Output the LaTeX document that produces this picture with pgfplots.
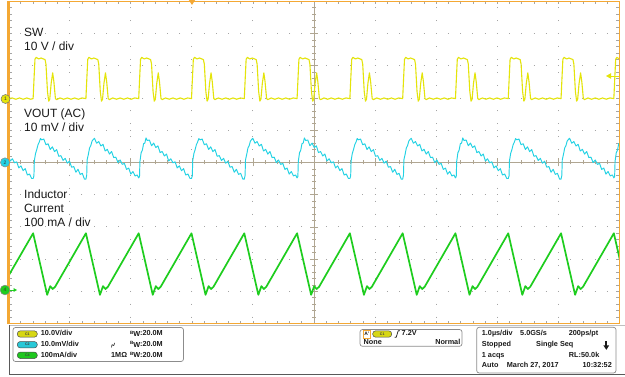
\documentclass[border=0pt]{standalone}
\usepackage{pgfplots}
\pgfplotsset{compat=1.18}
\usepackage{fontspec}
\setmainfont{Liberation Sans}
\definecolor{scyel}{RGB}{228,228,10}
\definecolor{sccyan}{RGB}{35,210,228}
\definecolor{scgreen}{RGB}{30,205,30}
\definecolor{scorange}{RGB}{244,168,52}
\definecolor{gridc}{RGB}{165,165,165}
\definecolor{centc}{RGB}{176,166,146}
\definecolor{tickc}{RGB}{165,165,165}
\definecolor{txt}{RGB}{25,25,25}
\definecolor{boxc}{RGB}{140,140,140}
\definecolor{pillyel}{RGB}{215,215,20}
\definecolor{pillcyan}{RGB}{40,200,215}
\definecolor{pillgreen}{RGB}{30,200,30}
\begin{document}
\begin{tikzpicture}[x=1bp,y=1bp]
\path[use as bounding box, fill=white] (0,0) rectangle (625,376);
% ---------- graticule ----------
\foreach \i in {1,2,3,4,6,7,8,9} {
  \draw[gridc, line width=0.9bp, dash pattern=on 0.9bp off 11.32bp] (313.55,{52.5+32.22*\i}) -- (619.5,{52.5+32.22*\i});
  \draw[gridc, line width=0.9bp, dash pattern=on 0.9bp off 11.32bp] (314.45,{52.5+32.22*\i}) -- (8.5,{52.5+32.22*\i});
  \draw[gridc, line width=0.9bp, dash pattern=on 0.9bp off 11.99bp] ({8.5+61.1*\i},213.15) -- ({8.5+61.1*\i},374.7);
  \draw[gridc, line width=0.9bp, dash pattern=on 0.9bp off 11.99bp] ({8.5+61.1*\i},214.05) -- ({8.5+61.1*\i},52.5);
}
\draw[centc, line width=0.7bp] (8.5,213.6) -- (619.5,213.6);
\draw[centc, line width=0.7bp] (314,52.5) -- (314,374.7);
\foreach \j in {-24,...,24} {
  \draw[centc, line width=0.6bp] ({314+12.22*\j},211.6) -- ({314+12.22*\j},215.6);
  \draw[centc, line width=0.6bp] (312,{213.6+6.444*\j}) -- (316,{213.6+6.444*\j});
}
\foreach \j in {-4,...,4} {
  \draw[centc, line width=0.6bp] ({314+61.1*\j},209.6) -- ({314+61.1*\j},217.6);
  \draw[centc, line width=0.6bp] (310,{213.6+32.22*\j}) -- (318,{213.6+32.22*\j});
}
\foreach \j in {1,...,49} {
  \draw[tickc, line width=0.6bp] ({8.5+12.22*\j},52.5) -- ({8.5+12.22*\j},55.5);
  \draw[tickc, line width=0.6bp] ({8.5+12.22*\j},374.7) -- ({8.5+12.22*\j},371.7);
  \draw[tickc, line width=0.6bp] (8.5,{52.5+6.444*\j}) -- (11.8,{52.5+6.444*\j});
  \draw[tickc, line width=0.6bp] (619.5,{52.5+6.444*\j}) -- (616.2,{52.5+6.444*\j});
}
% ---------- traces ----------
\begin{axis}[at={(8.5bp,52.5bp)}, anchor=south west, width=611bp, height=322.2bp,
  scale only axis, xmin=-3, xmax=7, ymin=-5, ymax=5, hide axis, clip=true]
% SW (divisions, ground at +2 div)
\addplot[scyel, line width=1.1bp, no markers, line join=round] coordinates {
(-3.000,1.98) (-2.940,2.00) (-2.880,1.96) (-2.820,2.00) (-2.760,1.96) (-2.700,2.00) (-2.640,1.96)
(-2.597,1.98) (-2.582,2.60) (-2.567,3.20) (-2.547,3.26) (-2.507,3.21) (-2.467,3.24) (-2.427,3.21) (-2.402,3.19) (-2.387,3.05) (-2.362,2.20) (-2.342,1.90) (-2.325,1.96) (-2.302,2.45) (-2.277,2.78) (-2.257,2.50) (-2.232,1.98) (-2.212,1.95) (-2.157,2.00) (-2.097,1.96) (-2.037,2.00) (-1.977,1.96) (-1.917,2.00) (-1.857,1.96) (-1.797,2.00)
(-1.733,1.98) (-1.718,2.60) (-1.703,3.20) (-1.683,3.26) (-1.643,3.21) (-1.603,3.24) (-1.563,3.21) (-1.538,3.19) (-1.523,3.05) (-1.498,2.20) (-1.478,1.90) (-1.461,1.96) (-1.438,2.45) (-1.413,2.78) (-1.393,2.50) (-1.368,1.98) (-1.348,1.95) (-1.293,2.00) (-1.233,1.96) (-1.173,2.00) (-1.113,1.96) (-1.053,2.00) (-0.993,1.96) (-0.933,2.00)
(-0.869,1.98) (-0.854,2.60) (-0.839,3.20) (-0.819,3.26) (-0.779,3.21) (-0.739,3.24) (-0.699,3.21) (-0.674,3.19) (-0.659,3.05) (-0.634,2.20) (-0.614,1.90) (-0.597,1.96) (-0.574,2.45) (-0.549,2.78) (-0.529,2.50) (-0.504,1.98) (-0.484,1.95) (-0.429,2.00) (-0.369,1.96) (-0.309,2.00) (-0.249,1.96) (-0.189,2.00) (-0.129,1.96) (-0.069,2.00)
(-0.005,1.98) (0.010,2.60) (0.025,3.20) (0.045,3.26) (0.085,3.21) (0.125,3.24) (0.165,3.21) (0.190,3.19) (0.205,3.05) (0.230,2.20) (0.250,1.90) (0.267,1.96) (0.290,2.45) (0.315,2.78) (0.335,2.50) (0.360,1.98) (0.380,1.95) (0.435,2.00) (0.495,1.96) (0.555,2.00) (0.615,1.96) (0.675,2.00) (0.735,1.96) (0.795,2.00)
(0.859,1.98) (0.874,2.60) (0.889,3.20) (0.909,3.26) (0.949,3.21) (0.989,3.24) (1.029,3.21) (1.054,3.19) (1.069,3.05) (1.094,2.20) (1.114,1.90) (1.131,1.96) (1.154,2.45) (1.179,2.78) (1.199,2.50) (1.224,1.98) (1.244,1.95) (1.299,2.00) (1.359,1.96) (1.419,2.00) (1.479,1.96) (1.539,2.00) (1.599,1.96) (1.659,2.00)
(1.723,1.98) (1.738,2.60) (1.753,3.20) (1.773,3.26) (1.813,3.21) (1.853,3.24) (1.893,3.21) (1.918,3.19) (1.933,3.05) (1.958,2.20) (1.978,1.90) (1.995,1.96) (2.018,2.45) (2.043,2.78) (2.063,2.50) (2.088,1.98) (2.108,1.95) (2.163,2.00) (2.223,1.96) (2.283,2.00) (2.343,1.96) (2.403,2.00) (2.463,1.96) (2.523,2.00)
(2.587,1.98) (2.602,2.60) (2.617,3.20) (2.637,3.26) (2.677,3.21) (2.717,3.24) (2.757,3.21) (2.782,3.19) (2.797,3.05) (2.822,2.20) (2.842,1.90) (2.859,1.96) (2.882,2.45) (2.907,2.78) (2.927,2.50) (2.952,1.98) (2.972,1.95) (3.027,2.00) (3.087,1.96) (3.147,2.00) (3.207,1.96) (3.267,2.00) (3.327,1.96) (3.387,2.00)
(3.451,1.98) (3.466,2.60) (3.481,3.20) (3.501,3.26) (3.541,3.21) (3.581,3.24) (3.621,3.21) (3.646,3.19) (3.661,3.05) (3.686,2.20) (3.706,1.90) (3.723,1.96) (3.746,2.45) (3.771,2.78) (3.791,2.50) (3.816,1.98) (3.836,1.95) (3.891,2.00) (3.951,1.96) (4.011,2.00) (4.071,1.96) (4.131,2.00) (4.191,1.96) (4.251,2.00)
(4.315,1.98) (4.330,2.60) (4.345,3.20) (4.365,3.26) (4.405,3.21) (4.445,3.24) (4.485,3.21) (4.510,3.19) (4.525,3.05) (4.550,2.20) (4.570,1.90) (4.587,1.96) (4.610,2.45) (4.635,2.78) (4.655,2.50) (4.680,1.98) (4.700,1.95) (4.755,2.00) (4.815,1.96) (4.875,2.00) (4.935,1.96) (4.995,2.00) (5.055,1.96) (5.115,2.00)
(5.179,1.98) (5.194,2.60) (5.209,3.20) (5.229,3.26) (5.269,3.21) (5.309,3.24) (5.349,3.21) (5.374,3.19) (5.389,3.05) (5.414,2.20) (5.434,1.90) (5.451,1.96) (5.474,2.45) (5.499,2.78) (5.519,2.50) (5.544,1.98) (5.564,1.95) (5.619,2.00) (5.679,1.96) (5.739,2.00) (5.799,1.96) (5.859,2.00) (5.919,1.96) (5.979,2.00)
(6.043,1.98) (6.058,2.60) (6.073,3.20) (6.093,3.26) (6.133,3.21) (6.173,3.24) (6.213,3.21) (6.238,3.19) (6.253,3.05) (6.278,2.20) (6.298,1.90) (6.315,1.96) (6.338,2.45) (6.363,2.78) (6.383,2.50) (6.408,1.98) (6.428,1.95) (6.483,2.00) (6.543,1.96) (6.603,2.00) (6.663,1.96) (6.723,2.00) (6.783,1.96) (6.843,2.00)
(6.907,1.98) (6.922,2.60) (6.937,3.20) (6.957,3.26) (6.997,3.21) (7.037,3.24)
};
% VOUT (AC)
\addplot[sccyan, line width=0.95bp, no markers, line join=round] coordinates {
(-3.006,0.260) (-2.971,0.042) (-2.936,0.114) (-2.901,-0.014) (-2.866,0.018) (-2.831,-0.170) (-2.796,-0.108) (-2.761,-0.256) (-2.726,-0.194) (-2.691,-0.392) (-2.656,-0.360) (-2.621,-0.499)
(-2.597,-0.50) (-2.584,-0.42) (-2.577,0.05) (-2.557,0.28) (-2.537,0.40) (-2.517,0.55) (-2.497,0.63) (-2.477,0.74) (-2.457,0.70) (-2.422,0.725) (-2.387,0.547) (-2.352,0.579) (-2.317,0.401) (-2.282,0.483) (-2.247,0.335) (-2.212,0.397) (-2.177,0.189) (-2.142,0.210) (-2.107,0.062) (-2.072,0.124) (-2.037,-0.024) (-2.002,0.038) (-1.967,-0.150) (-1.932,-0.128) (-1.897,-0.306) (-1.862,-0.214) (-1.827,-0.372) (-1.792,-0.340) (-1.757,-0.519)
(-1.733,-0.52) (-1.720,-0.40) (-1.713,0.08) (-1.693,0.25) (-1.673,0.45) (-1.653,0.52) (-1.633,0.66) (-1.613,0.71) (-1.593,0.75) (-1.558,0.595) (-1.523,0.647) (-1.488,0.509) (-1.453,0.561) (-1.418,0.353) (-1.383,0.405) (-1.348,0.257) (-1.313,0.339) (-1.278,0.150) (-1.243,0.162) (-1.208,-0.006) (-1.173,0.076) (-1.138,-0.062) (-1.103,-0.030) (-1.068,-0.218) (-1.033,-0.176) (-0.998,-0.364) (-0.963,-0.282) (-0.928,-0.420) (-0.893,-0.389)
(-0.869,-0.48) (-0.856,-0.44) (-0.849,0.03) (-0.829,0.30) (-0.809,0.38) (-0.789,0.58) (-0.769,0.60) (-0.749,0.76) (-0.729,0.68) (-0.694,0.695) (-0.659,0.517) (-0.624,0.599) (-0.589,0.461) (-0.554,0.513) (-0.519,0.305) (-0.484,0.337) (-0.449,0.199) (-0.414,0.260) (-0.379,0.042) (-0.344,0.114) (-0.309,-0.014) (-0.274,0.018) (-0.239,-0.170) (-0.204,-0.108) (-0.169,-0.256) (-0.134,-0.194) (-0.099,-0.392) (-0.064,-0.360) (-0.029,-0.499)
(-0.005,-0.50) (0.008,-0.42) (0.015,0.05) (0.035,0.28) (0.055,0.40) (0.075,0.55) (0.095,0.63) (0.115,0.74) (0.135,0.70) (0.170,0.725) (0.205,0.547) (0.240,0.579) (0.275,0.401) (0.310,0.483) (0.345,0.335) (0.380,0.397) (0.415,0.189) (0.450,0.210) (0.485,0.062) (0.520,0.124) (0.555,-0.024) (0.590,0.038) (0.625,-0.150) (0.660,-0.128) (0.695,-0.306) (0.730,-0.214) (0.765,-0.372) (0.800,-0.340) (0.835,-0.519)
(0.859,-0.52) (0.872,-0.40) (0.879,0.08) (0.899,0.25) (0.919,0.45) (0.939,0.52) (0.959,0.66) (0.979,0.71) (0.999,0.75) (1.034,0.595) (1.069,0.647) (1.104,0.509) (1.139,0.561) (1.174,0.353) (1.209,0.405) (1.244,0.257) (1.279,0.339) (1.314,0.150) (1.349,0.162) (1.384,-0.006) (1.419,0.076) (1.454,-0.062) (1.489,-0.030) (1.524,-0.218) (1.559,-0.176) (1.594,-0.364) (1.629,-0.282) (1.664,-0.420) (1.699,-0.389)
(1.723,-0.48) (1.736,-0.44) (1.743,0.03) (1.763,0.30) (1.783,0.38) (1.803,0.58) (1.823,0.60) (1.843,0.76) (1.863,0.68) (1.898,0.695) (1.933,0.517) (1.968,0.599) (2.003,0.461) (2.038,0.513) (2.073,0.305) (2.108,0.337) (2.143,0.199) (2.178,0.260) (2.213,0.042) (2.248,0.114) (2.283,-0.014) (2.318,0.018) (2.353,-0.170) (2.388,-0.108) (2.423,-0.256) (2.458,-0.194) (2.493,-0.392) (2.528,-0.360) (2.563,-0.499)
(2.587,-0.50) (2.600,-0.42) (2.607,0.05) (2.627,0.28) (2.647,0.40) (2.667,0.55) (2.687,0.63) (2.707,0.74) (2.727,0.70) (2.762,0.725) (2.797,0.547) (2.832,0.579) (2.867,0.401) (2.902,0.483) (2.937,0.335) (2.972,0.397) (3.007,0.189) (3.042,0.210) (3.077,0.062) (3.112,0.124) (3.147,-0.024) (3.182,0.038) (3.217,-0.150) (3.252,-0.128) (3.287,-0.306) (3.322,-0.214) (3.357,-0.372) (3.392,-0.340) (3.427,-0.519)
(3.451,-0.52) (3.464,-0.40) (3.471,0.08) (3.491,0.25) (3.511,0.45) (3.531,0.52) (3.551,0.66) (3.571,0.71) (3.591,0.75) (3.626,0.595) (3.661,0.647) (3.696,0.509) (3.731,0.561) (3.766,0.353) (3.801,0.405) (3.836,0.257) (3.871,0.339) (3.906,0.150) (3.941,0.162) (3.976,-0.006) (4.011,0.076) (4.046,-0.062) (4.081,-0.030) (4.116,-0.218) (4.151,-0.176) (4.186,-0.364) (4.221,-0.282) (4.256,-0.420) (4.291,-0.389)
(4.315,-0.48) (4.328,-0.44) (4.335,0.03) (4.355,0.30) (4.375,0.38) (4.395,0.58) (4.415,0.60) (4.435,0.76) (4.455,0.68) (4.490,0.695) (4.525,0.517) (4.560,0.599) (4.595,0.461) (4.630,0.513) (4.665,0.305) (4.700,0.337) (4.735,0.199) (4.770,0.260) (4.805,0.042) (4.840,0.114) (4.875,-0.014) (4.910,0.018) (4.945,-0.170) (4.980,-0.108) (5.015,-0.256) (5.050,-0.194) (5.085,-0.392) (5.120,-0.360) (5.155,-0.499)
(5.179,-0.50) (5.192,-0.42) (5.199,0.05) (5.219,0.28) (5.239,0.40) (5.259,0.55) (5.279,0.63) (5.299,0.74) (5.319,0.70) (5.354,0.725) (5.389,0.547) (5.424,0.579) (5.459,0.401) (5.494,0.483) (5.529,0.335) (5.564,0.397) (5.599,0.189) (5.634,0.210) (5.669,0.062) (5.704,0.124) (5.739,-0.024) (5.774,0.038) (5.809,-0.150) (5.844,-0.128) (5.879,-0.306) (5.914,-0.214) (5.949,-0.372) (5.984,-0.340) (6.019,-0.519)
(6.043,-0.52) (6.056,-0.40) (6.063,0.08) (6.083,0.25) (6.103,0.45) (6.123,0.52) (6.143,0.66) (6.163,0.71) (6.183,0.75) (6.218,0.595) (6.253,0.647) (6.288,0.509) (6.323,0.561) (6.358,0.353) (6.393,0.405) (6.428,0.257) (6.463,0.339) (6.498,0.150) (6.533,0.162) (6.568,-0.006) (6.603,0.076) (6.638,-0.062) (6.673,-0.030) (6.708,-0.218) (6.743,-0.176) (6.778,-0.364) (6.813,-0.282) (6.848,-0.420) (6.883,-0.389)
(6.907,-0.48) (6.920,-0.44) (6.927,0.03) (6.947,0.30) (6.967,0.38) (6.987,0.58) (7.007,0.60)
};
% Inductor current
\addplot[scgreen, line width=1.7bp, no markers, line join=round] coordinates {
(-3.000,-3.52) (-2.597,-2.20) (-2.367,-4.11) (-2.317,-3.84) (-2.277,-3.93) (-2.237,-3.86)
(-1.733,-2.20) (-1.503,-4.11) (-1.453,-3.84) (-1.413,-3.93) (-1.373,-3.86)
(-0.869,-2.20) (-0.639,-4.11) (-0.589,-3.84) (-0.549,-3.93) (-0.509,-3.86)
(-0.005,-2.20) (0.225,-4.11) (0.275,-3.84) (0.315,-3.93) (0.355,-3.86)
(0.859,-2.20) (1.089,-4.11) (1.139,-3.84) (1.179,-3.93) (1.219,-3.86)
(1.723,-2.20) (1.953,-4.11) (2.003,-3.84) (2.043,-3.93) (2.083,-3.86)
(2.587,-2.20) (2.817,-4.11) (2.867,-3.84) (2.907,-3.93) (2.947,-3.86)
(3.451,-2.20) (3.681,-4.11) (3.731,-3.84) (3.771,-3.93) (3.811,-3.86)
(4.315,-2.20) (4.545,-4.11) (4.595,-3.84) (4.635,-3.93) (4.675,-3.86)
(5.179,-2.20) (5.409,-4.11) (5.459,-3.84) (5.499,-3.93) (5.539,-3.86)
(6.043,-2.20) (6.273,-4.11) (6.323,-3.84) (6.363,-3.93) (6.403,-3.86)
(6.907,-2.20) (7.137,-4.11)
};
\end{axis}
% ---------- frame ----------
\draw[scorange, line width=1.4bp] (8.5,52.5) rectangle (619.5,374.7);
\draw[scorange, line width=2.8bp] (8.3,51.8) -- (8.3,375.4);
% trigger position marker (top) and trigger level (right)
\fill[scorange] (188.8,376) -- (195.2,376) -- (192,371) -- cycle;
\draw[scyel, line width=0.8bp] (610,300) -- (619,300);
\fill[scyel] (606,300) -- (611,302.8) -- (611,297.2) -- cycle;
% channel markers
\draw[fill=scyel, draw=black!55, line width=0.5bp] (5.5,277) circle (4.5);
\node[font=\fontsize{5}{5}\selectfont, text=black!80, inner sep=0] at (5.5,277) {1};
\draw[fill=sccyan, draw=black!45, line width=0.5bp] (5,213.6) circle (4.6);
\node[font=\fontsize{5}{5}\selectfont, text=black!80, inner sep=0] at (5,213.6) {2};
\draw[scgreen, line width=0.8bp] (9,86) -- (14,86);
\fill[scgreen] (17,86) -- (13.5,88) -- (13.5,84) -- cycle;
\draw[fill=scgreen, draw=black!45, line width=0.5bp] (5,86) circle (4.9);
\node[font=\fontsize{5}{5}\selectfont, text=black!80, inner sep=0] at (5,86) {4};
% labels
\begin{scope}[every node/.style={anchor=base west, inner sep=0, text=txt, font=\fontsize{12}{14}\selectfont}]
\node at (24,340) {SW};
\node at (24,325.5) {10 V / div};
\node at (24,258.5) {VOUT (AC)};
\node at (24,245) {10 mV / div};
\node at (24,178) {Inductor};
\node at (24,163.5) {Current};
\node at (24,149.5) {100 mA / div};
\end{scope}
% ---------- status bar ----------
\draw[black!25, line width=0.6bp] (9,51.2) -- (625,51.2);
\draw[black!65, line width=0.8bp] (9.3,51) -- (9.3,2) -- (625,2);
\draw[boxc, line width=0.7bp, rounded corners=2.5bp] (13,14.5) rectangle (183.5,48.5);
\draw[boxc, line width=0.7bp, rounded corners=2.5bp] (360,29.7) rectangle (462,46.5);
\draw[boxc, line width=0.7bp, rounded corners=2.5bp] (476.7,3) rectangle (616,48.7);
% channel pills
\foreach \yy/\cc/\lab in {42/pillyel/C1, 31.3/pillcyan/C2, 20.7/pillgreen/C4} {
  \draw[fill=\cc, draw=black!70, line width=0.5bp, rounded corners=3bp] (17.3,\yy-3.2) rectangle (37.3,\yy+3.2);
  \node[inner sep=0, font=\bfseries\fontsize{3.6}{4}\selectfont, text=black!75] at (27.3,\yy) {\lab};
}
\begin{scope}[every node/.style={anchor=base west, inner sep=0, text=txt, font=\bfseries\fontsize{7.3}{8}\selectfont}]
\node at (40.7,40.2) {10.0V/div};
\node at (40.7,29.6) {10.0mV/div};
\node at (40.7,19.0) {100mA/div};
\node at (111,19.0) {1MΩ};
\foreach \yy in {40.2,29.6,19.0} {
  \node at (130,\yy) {\raisebox{1.6bp}{\fontsize{4.6}{5}\selectfont B}\kern-0.2bp\raisebox{-0.9bp}{W}:20.0M};
}
% trigger box
\node at (401.5,40.2) {7.2V};
\node at (363.5,31.6) {None};
\node[anchor=base east] at (460.5,31.6) {Normal};
% timebase box
\node at (481.7,40.2) {1.0µs/div};
\node at (520,40.2) {5.0GS/s};
\node[anchor=base east] at (598.5,40.2) {200ps/pt};
\node at (481.7,29.6) {Stopped};
\node at (536,29.6) {Single Seq};
\node at (481.7,19.0) {1 acqs};
\node[anchor=base east] at (599.5,19.0) {RL:50.0k};
\node at (481.7,8.2) {Auto};
\node at (506.7,8.2) {March 27, 2017};
\node[anchor=base east] at (612,8.2) {10:32:52};
\end{scope}
% AC coupling symbol
\draw[txt, line width=0.6bp] (111.5,28.6) .. controls (112.3,35.5) and (113.6,26.2) .. (114.5,33.2);
% trigger box items
\draw[fill=white, draw=scorange, line width=0.6bp] (363.3,38.2) rectangle (370.3,45.6);
\node[inner sep=0, font=\bfseries\fontsize{5}{5}\selectfont, text=txt] at (366.8,41.9) {A'};
\draw[fill=pillyel, draw=black!70, line width=0.5bp, rounded corners=3bp] (372.7,38.8) rectangle (391.7,45.2);
\node[inner sep=0, font=\bfseries\fontsize{3.6}{4}\selectfont, text=black!75] at (382.2,42) {C1};
\draw[txt, line width=0.7bp] (394.6,38.8) -- (396.2,38.8) -- (398.2,45.2) -- (399.8,45.2);
% stop arrow
\fill[txt] (605.2,35.2) rectangle (607.4,30.2);
\fill[txt] (603.4,30.6) -- (609.2,30.6) -- (606.3,26.2) -- cycle;
\end{tikzpicture}
\end{document}
